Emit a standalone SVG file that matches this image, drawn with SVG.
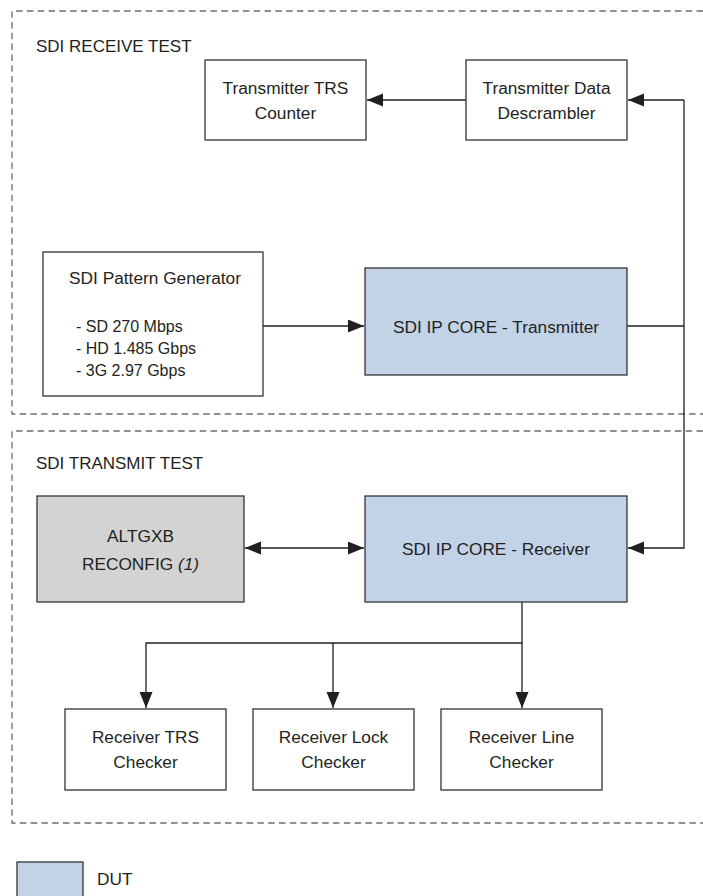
<svg xmlns="http://www.w3.org/2000/svg" width="703" height="896" viewBox="0 0 703 896">
<style>
text{font-family:"Liberation Sans",Arial,sans-serif;font-size:17.3px;fill:#231f20}
.box{fill:#fff;stroke:#333;stroke-width:1.3}
.dut{fill:#c2d3e7;stroke:#333;stroke-width:1.3}
.gray{fill:#d3d3d3;stroke:#333;stroke-width:1.3}
.dash{fill:none;stroke:#6d6d6d;stroke-width:1.3;stroke-dasharray:6.5 4.3}
.wire{fill:none;stroke:#231f20;stroke-width:1.3}
.title{font-size:17px}
.list{font-size:16px}
.c{text-anchor:middle}
</style>
<defs>
<marker id="ah" markerUnits="userSpaceOnUse" markerWidth="18" markerHeight="14" refX="16" refY="6.5" orient="auto-start-reverse">
<path d="M0,0 L16,6.5 L0,13 z" fill="#231f20"/>
</marker>
</defs>
<g id="regions">
<path class="dash" d="M703,11 H12 V414 H703"/>
<path class="dash" d="M703,431 H12 V823 H703"/>
<text class="title" x="36" y="52">SDI RECEIVE TEST</text>
<text class="title" x="36" y="469">SDI TRANSMIT TEST</text>
</g>
<g id="connectors">
<line class="wire" x1="466" y1="100" x2="367" y2="100" marker-end="url(#ah)"/>
<polyline class="wire" points="627,326 684,326"/>
<polyline class="wire" points="684,100 684,548 628,548" marker-end="url(#ah)"/>
<line class="wire" x1="684" y1="100" x2="628" y2="100" marker-end="url(#ah)"/>
<line class="wire" x1="263" y1="326" x2="364" y2="326" marker-end="url(#ah)"/>
<line class="wire" x1="245" y1="548" x2="364" y2="548" marker-start="url(#ah)" marker-end="url(#ah)"/>
<polyline class="wire" points="522,602 522,643"/>
<polyline class="wire" points="146,708 146,643 522,643 522,708" marker-start="url(#ah)" marker-end="url(#ah)"/>
<line class="wire" x1="333" y1="643" x2="333" y2="708" marker-end="url(#ah)"/>
</g>
<g id="trs-counter">
<rect class="box" x="205" y="60" width="161" height="80"/>
<text class="c" x="285.5" y="94">Transmitter TRS</text>
<text class="c" x="285.5" y="119">Counter</text>
</g>
<g id="descrambler">
<rect class="box" x="466" y="60" width="161" height="80"/>
<text class="c" x="546.5" y="94">Transmitter Data</text>
<text class="c" x="546.5" y="119">Descrambler</text>
</g>
<g id="pattern-generator">
<rect class="box" x="43" y="252" width="220" height="144"/>
<text class="c" x="155" y="284">SDI Pattern Generator</text>
<text class="list" x="76" y="332">- SD 270 Mbps</text>
<text class="list" x="76" y="354">- HD 1.485 Gbps</text>
<text class="list" x="76" y="376">- 3G 2.97 Gbps</text>
</g>
<g id="transmitter">
<rect class="dut" x="365" y="268" width="262" height="107"/>
<text class="c" x="496" y="333">SDI IP CORE - Transmitter</text>
</g>
<g id="altgxb">
<rect class="gray" x="37" y="496" width="207" height="106"/>
<text class="c" x="140.5" y="542">ALTGXB</text>
<text class="c" x="140.5" y="570">RECONFIG <tspan font-style="italic">(1)</tspan></text>
</g>
<g id="receiver">
<rect class="dut" x="365" y="496" width="262" height="106"/>
<text class="c" x="496" y="555">SDI IP CORE - Receiver</text>
</g>
<g id="trs-checker">
<rect class="box" x="65" y="709" width="161" height="81"/>
<text class="c" x="145.5" y="743">Receiver TRS</text>
<text class="c" x="145.5" y="768">Checker</text>
</g>
<g id="lock-checker">
<rect class="box" x="253" y="709" width="161" height="81"/>
<text class="c" x="333.5" y="743">Receiver Lock</text>
<text class="c" x="333.5" y="768">Checker</text>
</g>
<g id="line-checker">
<rect class="box" x="441" y="709" width="161" height="81"/>
<text class="c" x="521.5" y="743">Receiver Line</text>
<text class="c" x="521.5" y="768">Checker</text>
</g>
<g id="legend">
<rect class="dut" x="17" y="862" width="66" height="40"/>
<text x="97" y="885">DUT</text>
</g>
</svg>
